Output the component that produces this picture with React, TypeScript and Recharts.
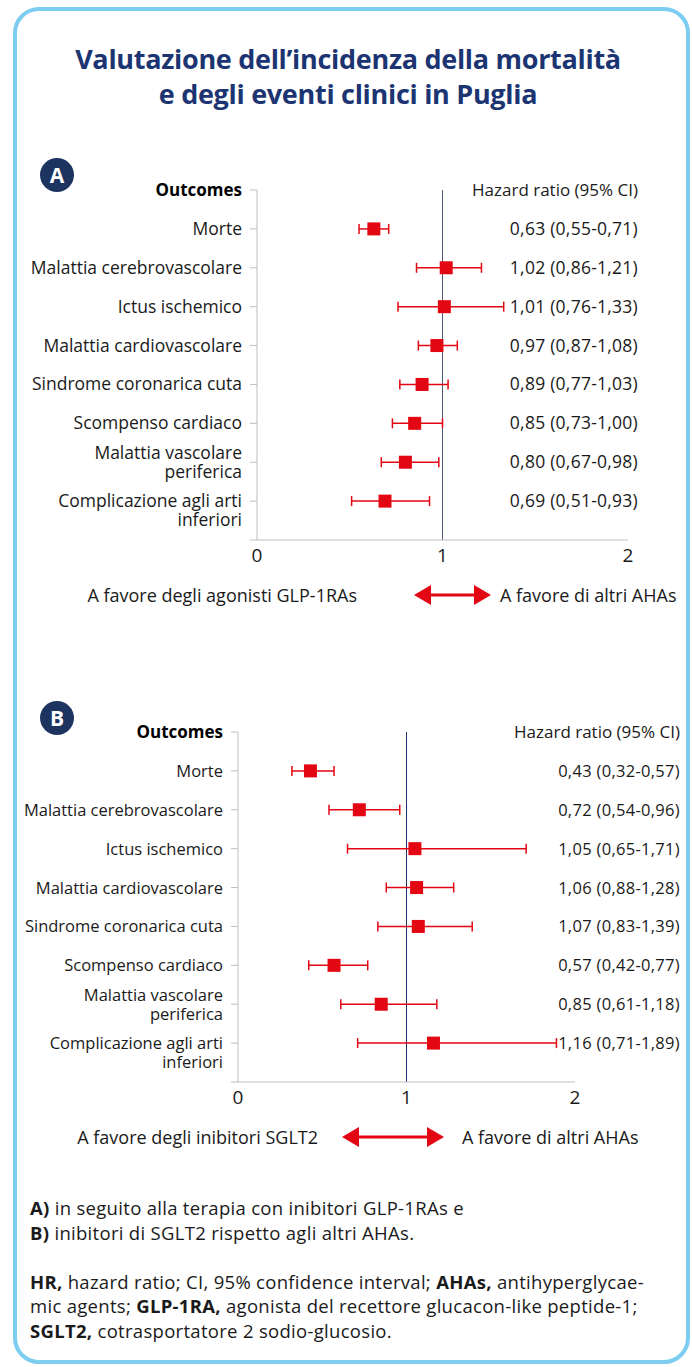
import React from "react";
import { ScatterChart, Scatter, XAxis, YAxis, ErrorBar, ReferenceLine } from "recharts";

// outcome labels, "\n" splits a label on two lines
const outcomes = [
  "Morte",
  "Malattia cerebrovascolare",
  "Ictus ischemico",
  "Malattia cardiovascolare",
  "Sindrome coronarica cuta",
  "Scompenso cardiaco",
  "Malattia vascolare\nperiferica",
  "Complicazione agli arti\ninferiori",
];

// A) GLP-1RAs vs altri AHAs
const hrA = [0.63, 1.02, 1.01, 0.97, 0.89, 0.85, 0.8, 0.69];
const loA = [0.55, 0.86, 0.76, 0.87, 0.77, 0.73, 0.67, 0.51];
const hiA = [0.71, 1.21, 1.33, 1.08, 1.03, 1.0, 0.98, 0.93];

// B) SGLT2 vs altri AHAs
const hrB = [0.43, 0.72, 1.05, 1.06, 1.07, 0.57, 0.85, 1.16];
const loB = [0.32, 0.54, 0.65, 0.88, 0.83, 0.42, 0.61, 0.71];
const hiB = [0.57, 0.96, 1.71, 1.28, 1.39, 0.77, 1.18, 1.89];

const xTicks = [0, 1, 2];
const rowTicks = [0, 1, 2, 3, 4, 5, 6, 7, 8, 9];

const RED = "#e30613";
const NAVY = "#1c3572";
const GREY = "#bfbfbf";
const TEXT = "#1a1a1a";
const FONT = "'Open Sans', 'Noto Sans', sans-serif";

const fmt = (v: number) => v.toFixed(2).replace(".", ",");

function buildRows(hr: number[], lo: number[], hi: number[]) {
  return hr.map((v, i) => ({
    row: i + 1,
    hr: v,
    err: [v - lo[i], hi[i] - v],
    text: `${fmt(v)} (${fmt(lo[i])}-${fmt(hi[i])})`,
  }));
}

const Square = (props: any) => {
  const { cx, cy } = props;
  if (cx == null || cy == null) return null;
  return <rect x={cx - 6.5} y={cy - 6.5} width={13} height={13} fill={RED} />;
};

type PlotProps = {
  top: number;
  axisW: number;
  rightM: number;
  hrTextX: number;
  refColor: string;
  fontSize: number;
  hrSpacing: number;
  hr: number[];
  lo: number[];
  hi: number[];
};

const W = 692;
const MT = 20;

function ForestPlot({ top, axisW, rightM, hrTextX, refColor, fontSize, hrSpacing, hr, lo, hi }: PlotProps) {
  const rows = buildRows(hr, lo, hi);
  const rightX = W - rightM + hrTextX;

  // left tick draws the outcome label, plus the HR text on the right
  const RowTick = (props: any) => {
    const { x, y, payload } = props;
    const idx = payload.value as number;
    if (idx === 9) return null;
    if (idx === 0) {
      return (
        <g>
          <text x={x} y={y} dy={6} textAnchor="end" fontSize={17} fontWeight={700} fill="#000" fontFamily={FONT}>
            Outcomes
          </text>
          <text x={rightX} y={y} dy={6} textAnchor="end" fontSize={17} fill={TEXT} fontFamily={FONT}>
            Hazard ratio (95% CI)
          </text>
        </g>
      );
    }
    const lines = outcomes[idx - 1].split("\n");
    const r = rows[idx - 1];
    const first = lines.length === 1 ? 6 : idx === 8 ? 6 : -3;
    return (
      <g>
        {lines.map((l, i) => (
          <text
            key={i}
            x={x}
            y={y + first + i * 19}
            textAnchor="end"
            fontSize={fontSize}
            fill={TEXT}
            fontFamily={FONT}
          >
            {l}
          </text>
        ))}
        <text
          x={rightX}
          y={y}
          dy={6}
          textAnchor="end"
          fontSize={fontSize}
          letterSpacing={hrSpacing}
          fill={TEXT}
          fontFamily={FONT}
        >
          {r.text}
        </text>
      </g>
    );
  };

  return (
    <div style={{ position: "absolute", left: 0, top: top - MT }}>
      <ScatterChart width={W} height={MT + 350 + 32} margin={{ top: MT, right: rightM, bottom: 0, left: 0 }}>
        <XAxis
          type="number"
          dataKey="hr"
          domain={[0, 2]}
          ticks={xTicks}
          interval={0}
          height={32}
          tickLine={false}
          axisLine={{ stroke: GREY }}
          tick={{ fill: TEXT, fontSize: 19, fontFamily: FONT }}
          tickMargin={3}
        />
        <YAxis
          type="number"
          dataKey="row"
          domain={[0, 9]}
          reversed
          ticks={rowTicks}
          interval={0}
          width={axisW}
          tickSize={7}
          tickMargin={8}
          tickLine={{ stroke: GREY }}
          axisLine={{ stroke: GREY }}
          tick={<RowTick />}
        />
        <ReferenceLine x={1} stroke={refColor} strokeWidth={1} />
        <Scatter data={rows} shape={<Square />} isAnimationActive={false}>
          <ErrorBar dataKey="err" direction="x" width={5} stroke={RED} strokeWidth={1.5} />
        </Scatter>
      </ScatterChart>
    </div>
  );
}

const Badge = ({ letter, top }: { letter: string; top: number }) => (
  <div
    style={{
      position: "absolute",
      left: 40,
      top,
      width: 34,
      height: 34,
      borderRadius: "50%",
      background: "#1d3461",
      color: "#fff",
      fontFamily: FONT,
      fontWeight: 700,
      fontSize: 21,
      lineHeight: "34px",
      textAlign: "center",
    }}
  >
    {letter}
  </div>
);

const Arrow = ({ left, top, width }: { left: number; top: number; width: number }) => (
  <svg style={{ position: "absolute", left, top }} width={width} height={20}>
    <polygon points={`0,10 17,0 17,20`} fill={RED} />
    <polygon points={`${width},10 ${width - 17},0 ${width - 17},20`} fill={RED} />
    <line x1={12} y1={10} x2={width - 12} y2={10} stroke={RED} strokeWidth={3} />
  </svg>
);

const sideText = (style: React.CSSProperties): React.CSSProperties => ({
  position: "absolute",
  fontSize: 18,
  color: TEXT,
  whiteSpace: "nowrap",
  lineHeight: "20px",
  ...style,
});

export default function App() {
  return (
    <div
      style={{
        position: "absolute",
        left: 0,
        top: 0,
        width: 692,
        height: 1367,
        background: "#fff",
        fontFamily: FONT,
        overflow: "hidden",
      }}
    >
      <div
        style={{
          position: "absolute",
          left: 13,
          top: 7,
          width: 677,
          height: 1357,
          boxSizing: "border-box",
          border: "4px solid #7dcdf1",
          borderRadius: 26,
        }}
      />
      <div
        style={{
          position: "absolute",
          left: 0,
          top: 41,
          width: 696,
          textAlign: "center",
          color: NAVY,
          fontWeight: 700,
          fontSize: 27,
          lineHeight: "35px",
          letterSpacing: -0.3,
        }}
      >
        Valutazione dell’incidenza della mortalità
        <br />e degli eventi clinici in Puglia
      </div>

      <Badge letter="A" top={158} />
      <ForestPlot
        top={190}
        axisW={257}
        rightM={64}
        hrTextX={10}
        refColor="#4d5a7a"
        fontSize={17.5}
        hrSpacing={0.25}
        hr={hrA}
        lo={loA}
        hi={hiA}
      />
      <div style={sideText({ right: 692 - 357, top: 585 })}>A favore degli agonisti GLP-1RAs</div>
      <Arrow left={414} top={585} width={77} />
      <div style={sideText({ left: 500, top: 585 })}>A favore di altri AHAs</div>

      <Badge letter="B" top={701} />
      <ForestPlot
        top={732}
        axisW={238}
        rightM={117}
        hrTextX={105}
        refColor="#1f2f6e"
        fontSize={16.5}
        hrSpacing={0.3}
        hr={hrB}
        lo={loB}
        hi={hiB}
      />
      <div style={sideText({ right: 692 - 318, top: 1127 })}>A favore degli inibitori SGLT2</div>
      <Arrow left={342} top={1127} width={102} />
      <div style={sideText({ left: 462, top: 1127 })}>A favore di altri AHAs</div>

      <div
        style={{
          position: "absolute",
          left: 30,
          top: 1196,
          fontSize: 18.5,
          lineHeight: "24.5px",
          letterSpacing: 0.3,
          color: TEXT,
          whiteSpace: "nowrap",
        }}
      >
        <b>A)</b> in seguito alla terapia con inibitori GLP-1RAs e
        <br />
        <b>B)</b> inibitori di SGLT2 rispetto agli altri AHAs.
        <br />
        <br />
        <b>HR,</b> hazard ratio; CI, 95% confidence interval; <b>AHAs,</b> antihyperglycae-
        <br />
        mic agents; <b>GLP-1RA,</b> agonista del recettore glucacon-like peptide-1;
        <br />
        <b>SGLT2,</b> cotrasportatore 2 sodio-glucosio.
      </div>
    </div>
  );
}
